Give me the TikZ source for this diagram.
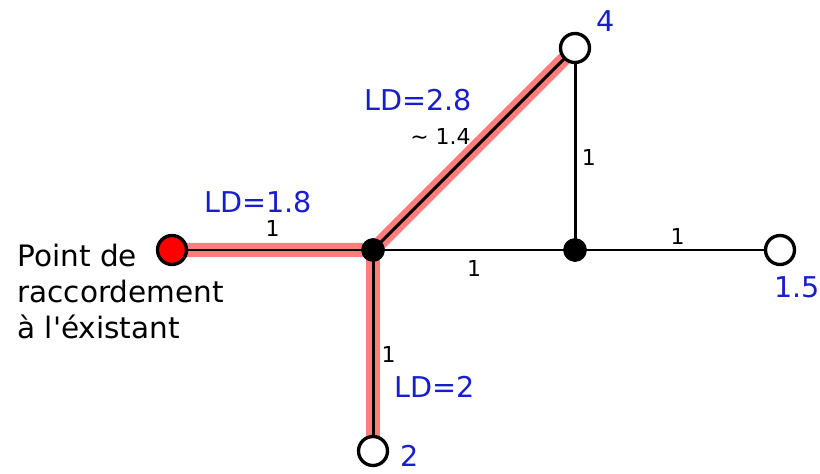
\documentclass[tikz,border=0pt]{standalone}
\usepackage{fontspec}
\setmainfont{DejaVu Sans}
\usetikzlibrary{backgrounds}
\definecolor{ldblue}{RGB}{25,30,205}
\definecolor{hilite}{RGB}{255,125,125}
\tikzset{
  endpt/.style={draw, circle, fill=white, line width=1.9pt, minimum size=0.58cm, inner sep=0pt},
  source/.style={endpt, fill=red},
  junc/.style={draw, circle, fill=black, minimum size=0.46cm, inner sep=0pt},
  pipe/.style={line width=1.7pt},
  route/.style={line width=8pt, hilite},
  len/.style={font=\fontsize{12.5}{14}\selectfont, inner sep=2pt},
  ld/.style={font=\fontsize{16.3}{19}\selectfont, text=ldblue, inner sep=0pt}
}

\begin{document}
\begin{tikzpicture}[x=0.02cm, y=-0.02cm]
  \useasboundingbox (0,0) rectangle (820,473);
  % network nodes
  \node[source] (pr) at (172,250) {};
  \node[junc] (j1) at (373,250) {};
  \node[junc] (j2) at (575,250) {};
  \node[endpt] (n4) at (575,48) {};
  \node[endpt] (n15) at (780,250) {};
  \node[endpt] (n2) at (373,451) {};
  % highlighted route, then pipes
  \begin{scope}[on background layer]
    \draw[route] (pr.center) -- (j1.center) -- (n4.center);
    \draw[route] (j1.center) -- (n2.center);
    \draw[pipe] (pr.center) -- node[len, above=5pt] {1} (j1.center);
    \draw[pipe] (j1.center) -- node[len, below=3pt] {1} (j2.center);
    \draw[pipe] (j2.center) -- node[len, above=0pt] {1} (n15.center);
    \draw[pipe] (j2.center) -- node[len, pos=0.46, right=1pt] {1} (n4.center);
    \draw[pipe] (j1.center) -- node[len, pos=0.52, right=2pt] {1} (n2.center);
    \draw[pipe] (j1.center) -- node[len, pos=0.56, left=6pt] {\textasciitilde{} 1.4} (n4.center);
  \end{scope}
  % demand labels
  \node[ld] (ld1) at (258,202) {LD=1.8};
  \node[ld] (ld2) at (418,100) {LD=2.8};
  \node[ld] (ld3) at (435,387) {LD=2};
  \node[ld] (v4) at (606,21) {4};
  \node[ld] (v15) at (797,287) {1.5};
  \node[ld] (v2) at (410,456) {2};
  \node[font=\fontsize{16.8}{20.5}\selectfont, align=left, anchor=north west, inner sep=0pt]
    (pt) at (17,244) {Point de\\raccordement\\à l\textquotesingle éxistant};
\end{tikzpicture}
\end{document}
